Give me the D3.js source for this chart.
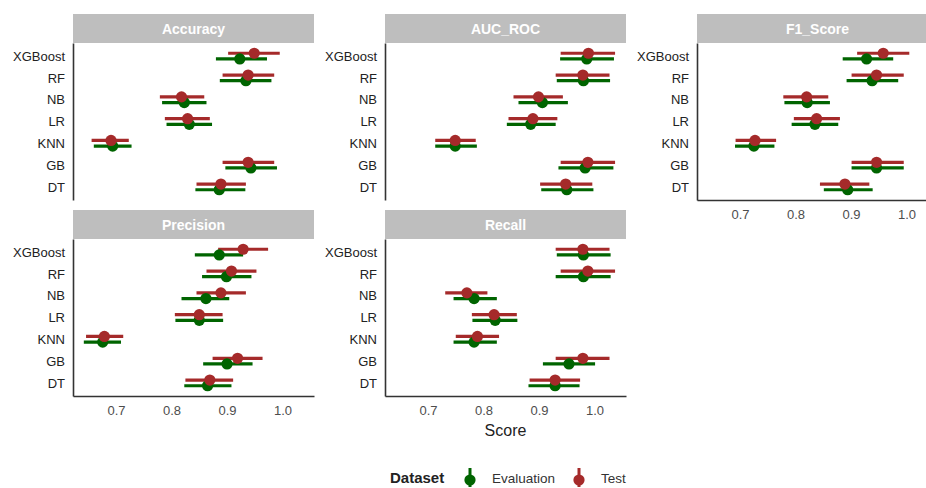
<!DOCTYPE html>
<html>
<head>
<meta charset="utf-8">
<script src="https://cdn.jsdelivr.net/npm/d3@7/dist/d3.min.js"></script>
<style>
  html, body { margin: 0; padding: 0; background: #ffffff; }
  svg { display: block; font-family: "Liberation Sans", Arial, sans-serif; }
</style>
</head>
<body>
<svg id="chart" width="926" height="488"></svg>
<script>
// Models, top to bottom on every panel
const models = ["XGBoost", "RF", "NB", "LR", "KNN", "GB", "DT"];
const metrics = ["Accuracy", "AUC_ROC", "F1_Score", "Precision", "Recall"];
const datasets = ["Evaluation", "Test"];
const xTicks = [0.7, 0.8, 0.9, 1.0];

// [score, lower, upper] per model, in the order of `models`
const accuracyEvaluation = [[0.923,0.880,0.972],[0.934,0.887,0.980],[0.823,0.783,0.863],[0.832,0.791,0.873],[0.694,0.660,0.728],[0.943,0.897,0.990],[0.886,0.843,0.933]];
const accuracyTest       = [[0.949,0.902,0.995],[0.938,0.892,0.985],[0.818,0.779,0.859],[0.829,0.788,0.869],[0.691,0.656,0.723],[0.938,0.892,0.985],[0.889,0.845,0.934]];
const aucEvaluation      = [[0.986,0.938,1.035],[0.980,0.932,1.028],[0.906,0.863,0.952],[0.885,0.842,0.930],[0.749,0.713,0.788],[0.983,0.935,1.034],[0.950,0.904,0.998]];
const aucTest            = [[0.989,0.939,1.037],[0.979,0.930,1.027],[0.899,0.854,0.943],[0.889,0.845,0.933],[0.749,0.713,0.786],[0.988,0.939,1.037],[0.948,0.902,0.996]];
const f1Evaluation       = [[0.928,0.885,0.976],[0.938,0.892,0.985],[0.821,0.780,0.862],[0.835,0.793,0.877],[0.725,0.691,0.762],[0.946,0.901,0.995],[0.894,0.851,0.939]];
const f1Test             = [[0.958,0.911,1.005],[0.946,0.901,0.995],[0.820,0.778,0.859],[0.838,0.797,0.880],[0.727,0.692,0.765],[0.946,0.901,0.995],[0.889,0.844,0.933]];
const precisionEvaluation= [[0.886,0.842,0.929],[0.899,0.855,0.944],[0.862,0.818,0.904],[0.850,0.807,0.893],[0.676,0.642,0.709],[0.900,0.857,0.946],[0.865,0.823,0.908]];
const precisionTest      = [[0.929,0.884,0.974],[0.908,0.863,0.953],[0.889,0.845,0.934],[0.850,0.806,0.892],[0.679,0.646,0.713],[0.919,0.874,0.964],[0.869,0.825,0.911]];
const recallEvaluation   = [[0.980,0.932,1.029],[0.980,0.930,1.029],[0.783,0.746,0.824],[0.821,0.780,0.861],[0.783,0.746,0.824],[0.954,0.907,1.001],[0.929,0.881,0.973]];
const recallTest         = [[0.979,0.930,1.027],[0.988,0.939,1.037],[0.770,0.731,0.807],[0.819,0.779,0.860],[0.789,0.750,0.828],[0.979,0.930,1.027],[0.929,0.883,0.974]];

const seriesByMetric = {
  Accuracy:  { Evaluation: accuracyEvaluation,  Test: accuracyTest },
  AUC_ROC:   { Evaluation: aucEvaluation,       Test: aucTest },
  F1_Score:  { Evaluation: f1Evaluation,        Test: f1Test },
  Precision: { Evaluation: precisionEvaluation, Test: precisionTest },
  Recall:    { Evaluation: recallEvaluation,    Test: recallTest }
};

const colors = { Evaluation: "#006400", Test: "#A52A2A" };

// facet layout
const panelW = 241, panelH = 157, stripH = 29;
const colX = [73, 385, 697];
const rowY = [14, 210];
const nCols = 3;

const svg = d3.select("#chart");

const x = d3.scaleLinear().domain([0.6225, 1.0567]).range([0, panelW]);
const y = d3.scalePoint().domain(models).range([0, panelH]).padding(0.6);
const dodge = y.step() * 0.13;
const offset = { Evaluation: dodge, Test: -dodge };

metrics.forEach((metric, i) => {
  const col = i % nCols, row = Math.floor(i / nCols);
  const left = colX[col], top = rowY[row];
  const g = svg.append("g").attr("transform", `translate(${left},${top})`);

  // strip
  g.append("rect").attr("x", 0).attr("y", 0).attr("width", panelW).attr("height", stripH)
    .attr("fill", "#BEBEBE");
  g.append("text").attr("x", panelW / 2).attr("y", stripH / 2).attr("dy", "0.36em")
    .attr("text-anchor", "middle").attr("fill", "#ffffff")
    .attr("font-size", "14px").attr("font-weight", "bold").text(metric);

  const p = g.append("g").attr("transform", `translate(0,${stripH})`);

  // y axis
  const ya = p.append("g").call(d3.axisLeft(y).tickSize(0).tickPadding(8).tickSizeOuter(0));
  ya.select(".domain").attr("stroke", "#333").attr("stroke-width", 1.6);
  ya.selectAll("text").attr("font-size", "13px").attr("fill", "#222")
    .attr("font-family", "Liberation Sans, Arial, sans-serif");

  // x axis only where no panel sits below
  const hasBelow = (i + nCols) < metrics.length;
  if (!hasBelow) {
    const xa = p.append("g").attr("transform", `translate(0,${panelH})`)
      .call(d3.axisBottom(x).tickValues(xTicks).tickFormat(d3.format(".1f")).tickSize(0).tickPadding(10).tickSizeOuter(0));
    xa.select(".domain").attr("stroke", "#333").attr("stroke-width", 1.6);
    xa.selectAll("text").attr("font-size", "13px").attr("fill", "#4D4D4D")
      .attr("font-family", "Liberation Sans, Arial, sans-serif");
  }

  const rows = [];
  datasets.forEach(ds => {
    seriesByMetric[metric][ds].forEach((v, k) => {
      rows.push({ model: models[k], ds, score: v[0], lo: v[1], hi: v[2] });
    });
  });

  // interval lines first, then the points on top
  p.selectAll("line.ci").data(rows).enter().append("line").attr("class", "ci")
    .attr("x1", d => x(d.lo)).attr("x2", d => x(d.hi))
    .attr("y1", d => y(d.model) + offset[d.ds]).attr("y2", d => y(d.model) + offset[d.ds])
    .attr("stroke", d => colors[d.ds]).attr("stroke-width", 3.2);
  p.selectAll("circle.pt").data(rows).enter().append("circle").attr("class", "pt")
    .attr("cx", d => x(d.score)).attr("cy", d => y(d.model) + offset[d.ds])
    .attr("r", 5.6).attr("fill", d => colors[d.ds]);

  // shared x-axis title under the middle bottom panel
  if (metric === "Recall") {
    p.append("text").attr("x", panelW / 2).attr("y", panelH + 40)
      .attr("text-anchor", "middle").attr("font-size", "16px").attr("fill", "#222")
      .text("Score");
  }
});

// legend
const legend = svg.append("g").attr("transform", "translate(0,478)");
legend.append("text").attr("x", 390).attr("y", 0).attr("dy", "0.36em")
  .attr("font-size", "15px").attr("font-weight", "bold").attr("fill", "#222").text("Dataset");
const keyX = { Evaluation: 470, Test: 579 };
datasets.forEach(ds => {
  const k = legend.append("g").attr("transform", `translate(${keyX[ds]},0)`);
  k.append("line").attr("x1", 0).attr("x2", 0).attr("y1", -10).attr("y2", 9)
    .attr("stroke", colors[ds]).attr("stroke-width", 3);
  k.append("circle").attr("cx", 0).attr("cy", 2).attr("r", 5.6).attr("fill", colors[ds]);
  k.append("text").attr("x", 22).attr("y", 0).attr("dy", "0.36em")
    .attr("font-size", "13.5px").attr("fill", "#333").text(ds);
});
</script>
</body>
</html>
